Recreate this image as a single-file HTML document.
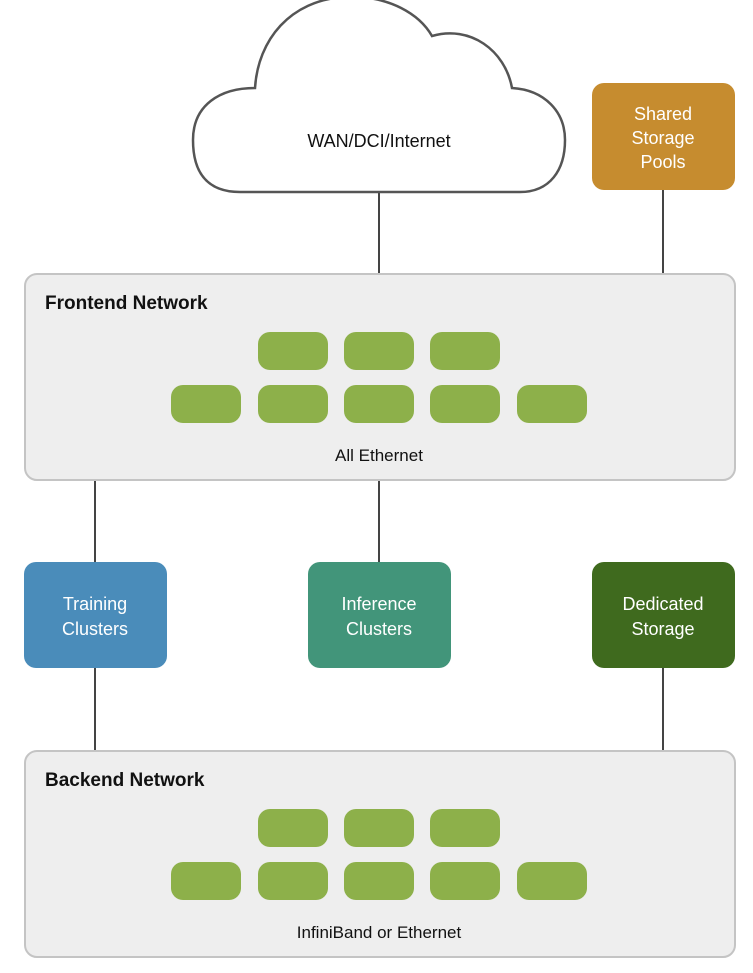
<!DOCTYPE html>
<html><head><meta charset="utf-8"><style>
html,body{margin:0;padding:0;background:#fff;}
body{width:753px;height:968px;overflow:hidden;font-family:"Liberation Sans",sans-serif;}
</style></head><body>
<svg width="753" height="968" viewBox="0 0 753 968" xmlns="http://www.w3.org/2000/svg" font-family="Liberation Sans, sans-serif">
<g stroke="#444" stroke-width="2">
<line x1="379" y1="192" x2="379" y2="274"/>
<line x1="663" y1="190" x2="663" y2="274"/>
<line x1="95" y1="480" x2="95" y2="562"/>
<line x1="379" y1="480" x2="379" y2="562"/>
<line x1="95" y1="668" x2="95" y2="751"/>
<line x1="663" y1="668" x2="663" y2="751"/>
</g>
<path d="M240,192 C205,192 193,170 193,140 C193,105 220,88 255,88 C258,40 290,0 345,-3 C390,-5 420,15 432,36 C470,25 505,50 512,88 C545,90 565,112 565,140 C565,170 550,192 520,192 Z" fill="#fff" stroke="#555" stroke-width="2.5"/>
<text x="379" y="147" font-size="18" text-anchor="middle" fill="#111">WAN/DCI/Internet</text>
<rect x="592" y="83" width="143" height="107" rx="12" fill="#c68c2f"/>
<g font-size="18" fill="#fff" text-anchor="middle">
<text x="663" y="120">Shared</text><text x="663" y="144">Storage</text><text x="663" y="168">Pools</text>
</g>
<rect x="25" y="274" width="710" height="206" rx="12" fill="#eee" stroke="#c4c4c4" stroke-width="2"/>
<text x="45" y="309" font-size="19" font-weight="bold" fill="#111">Frontend Network</text>
<g fill="#8db04a">
<rect x="258" y="332" width="70" height="38" rx="12"/><rect x="344" y="332" width="70" height="38" rx="12"/><rect x="430" y="332" width="70" height="38" rx="12"/>
<rect x="171" y="385" width="70" height="38" rx="12"/><rect x="258" y="385" width="70" height="38" rx="12"/><rect x="344" y="385" width="70" height="38" rx="12"/><rect x="430" y="385" width="70" height="38" rx="12"/><rect x="517" y="385" width="70" height="38" rx="12"/>
</g>
<text x="379" y="461" font-size="17" text-anchor="middle" fill="#111">All Ethernet</text>
<rect x="24" y="562" width="143" height="106" rx="12" fill="#4a8cba"/>
<rect x="308" y="562" width="143" height="106" rx="12" fill="#42957a"/>
<rect x="592" y="562" width="143" height="106" rx="12" fill="#3f6a1e"/>
<g font-size="18" fill="#fff" text-anchor="middle">
<text x="95" y="610">Training</text><text x="95" y="635">Clusters</text>
<text x="379" y="610">Inference</text><text x="379" y="635">Clusters</text>
<text x="663" y="610">Dedicated</text><text x="663" y="635">Storage</text>
</g>
<rect x="25" y="751" width="710" height="206" rx="12" fill="#eee" stroke="#c4c4c4" stroke-width="2"/>
<text x="45" y="786" font-size="19" font-weight="bold" fill="#111">Backend Network</text>
<g fill="#8db04a">
<rect x="258" y="809" width="70" height="38" rx="12"/><rect x="344" y="809" width="70" height="38" rx="12"/><rect x="430" y="809" width="70" height="38" rx="12"/>
<rect x="171" y="862" width="70" height="38" rx="12"/><rect x="258" y="862" width="70" height="38" rx="12"/><rect x="344" y="862" width="70" height="38" rx="12"/><rect x="430" y="862" width="70" height="38" rx="12"/><rect x="517" y="862" width="70" height="38" rx="12"/>
</g>
<text x="379" y="938" font-size="17" text-anchor="middle" fill="#111">InfiniBand or Ethernet</text>
</svg>
</body></html>
